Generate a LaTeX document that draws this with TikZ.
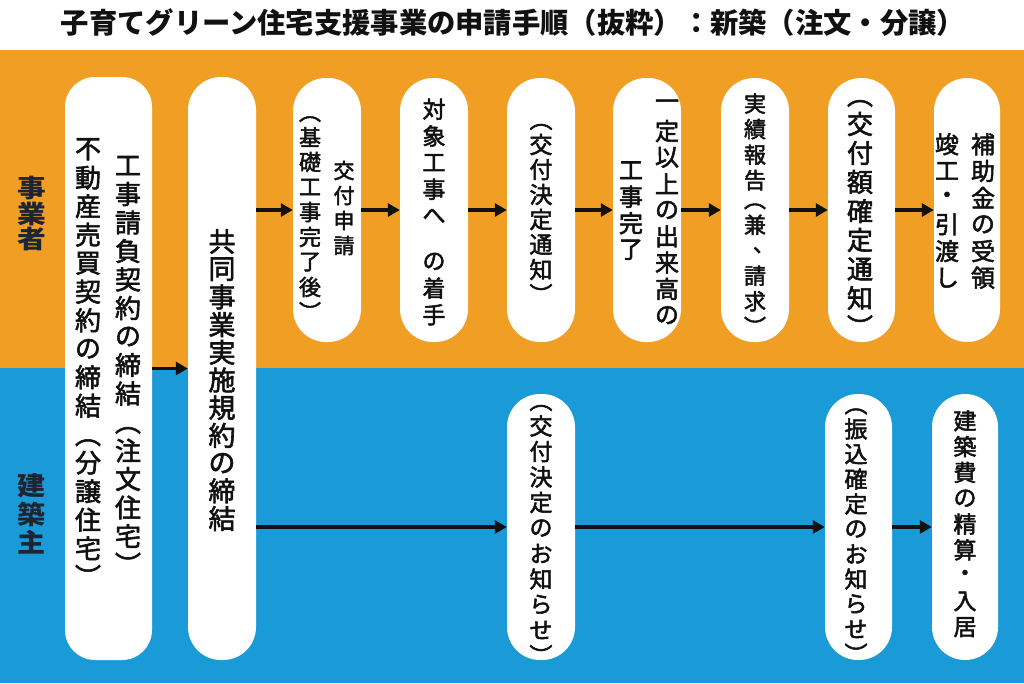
\documentclass[tikz,border=0pt]{standalone}
\usepackage{fontspec}
\usepackage{graphicx}
\usetikzlibrary{arrows.meta}
\newfontfamily\jp{Noto Sans CJK JP}
\newfontfamily\jpm[FakeBold=2.2]{Noto Sans CJK JP}
\definecolor{bandorange}{HTML}{F09F24}
\definecolor{bandblue}{HTML}{1A9BD7}
\definecolor{txt}{HTML}{111111}
\definecolor{lbl}{HTML}{1F2433}

\ExplSyntaxOn
\dim_new:N \l__vt_p_dim
\dim_new:N \l__vt_h_dim
\dim_new:N \l__vt_b_dim
\dim_new:N \l__vt_t_dim
\dim_new:N \l__vt_g_dim
\cs_new_protected:Npn \__vt_cell:n #1
  { \hbox to 1em { \hss \vbox to \l__vt_p_dim { \vss \hbox {#1} \vss } \hss } }
\cs_new_protected:Npn \__vt_open:
  { \hbox to 1em { \hss \vbox to \l__vt_h_dim { \vss \hbox { \smash { \rotatebox[origin=c]{-90}{（} } } \kern \l__vt_b_dim } \hss } }
\cs_new_protected:Npn \__vt_close:
  { \hbox to 1em { \hss \vbox to \l__vt_h_dim { \kern \l__vt_t_dim \hbox { \smash { \rotatebox[origin=c]{-90}{）} } } \vss } \hss } }
\cs_new_protected:Npn \__vt_comma:
  { \__vt_cell:n { \hbox to 1em { \kern 0.4em \raisebox{0.3em}[0.88em][0.12em]{ \rlap{、} } \hss } } }
\cs_new_protected:Npn \__vt_gap:
  { \hbox to 1em { \vbox to \l__vt_g_dim {} \hss } }
\NewDocumentCommand \vtext { O{1} m m m }
  {
    \group_begin:
    \fontsize{#2pt}{#2pt}\selectfont
    \dim_set:Nn \l__vt_p_dim {#3pt}
    \dim_set:Nn \l__vt_h_dim {#1\l__vt_p_dim}
    \dim_set:Nn \l__vt_g_dim {0.7\l__vt_p_dim}
    \dim_set:Nn \l__vt_b_dim {(\l__vt_p_dim - 1em)/2 + 0.12em}
    \dim_set:Nn \l__vt_t_dim {(\l__vt_p_dim - 1em)/2 + 0.88em}
    \vbox
      {
        \offinterlineskip
        \tl_map_inline:nn {#4}
          {
            \str_case:nnF {##1}
              {
                {（}{\__vt_open:}
                {）}{\__vt_close:}
                {、}{\__vt_comma:}
                {　}{\__vt_gap:}
              }
              { \__vt_cell:n {##1} }
          }
      }
    \group_end:
  }
\ExplSyntaxOff

\tikzset{
  pill/.style={fill=white, draw=none, rounded corners=33pt, inner sep=0pt},
  vt/.style={inner sep=0pt, text=txt, font=\jpm},
  lane/.style={inner sep=0pt, text=lbl, font=\jp\bfseries, transform shape},
  arr/.style={line width=3.5pt, draw=txt, -{Triangle[length=12pt,width=13pt]}},
}

\begin{document}
\begin{tikzpicture}[x=1pt,y=-1pt]
\useasboundingbox (0,0) rectangle (1024,683);
\fill[white] (0,0) rectangle (1024,50);
\fill[bandorange] (0,50) rectangle (1024,368);
\fill[bandblue] (0,368) rectangle (1024,683);

% title
\node[inner sep=0pt, text=txt] (title) at (513,23)
  {\jp\bfseries\fontsize{28.3}{28.3}\selectfont 子育てグリーン住宅支援事業の申請手順（抜粋）：新築（注文・分譲）};

% lane labels
\node[lane, xscale=1.15] (lab1) at (32,214) {\vtext{25}{25.5}{事業者}};
\node[lane, xscale=1.08] (lab2) at (32,514) {\vtext{26}{28}{建築主}};

% boxes
\node[pill, rounded corners=30pt, minimum width=87, minimum height=583] (b1) at (108.5,368.5) {};
\node[pill, minimum width=68, minimum height=583] (b2) at (222,368.5) {};
\node[pill, minimum width=68, minimum height=264] (b3) at (327,210) {};
\node[pill, minimum width=68, minimum height=264] (b4) at (434,210) {};
\node[pill, minimum width=68, minimum height=264] (b5) at (541,210) {};
\node[pill, minimum width=68, minimum height=264] (b6) at (647,210) {};
\node[pill, minimum width=68, minimum height=264] (b7) at (755,210) {};
\node[pill, minimum width=67, minimum height=264] (b8) at (861.5,210) {};
\node[pill, minimum width=66, minimum height=264] (b9) at (967,210) {};
\node[pill, minimum width=68, minimum height=266] (c5) at (541,527) {};
\node[pill, minimum width=67, minimum height=266] (c8) at (858.5,527) {};
\node[pill, minimum width=66, minimum height=266] (c9) at (965,527) {};

% texts
\node[vt] (t1a) at (128,365) {\vtext{26}{28.5}{工事請負契約の締結（注文住宅）}};
\node[vt] (t1b) at (88,363) {\vtext{26}{28.5}{不動産売買契約の締結（分譲住宅）}};
\node[vt] (t2) at (222,380) {\vtext{27}{27.7}{共同事業実施規約の締結}};
\node[vt] (t3a) at (344,208) {\vtext{21}{25}{交付申請}};
\node[vt] (t3b) at (310,212) {\vtext[0.6]{22}{25}{（基礎工事完了後）}};
\node[vt] (t4) at (434,212) {\vtext{23}{26.7}{対象工事へ　の着手}};
\node[vt] (t5) at (541,207) {\vtext[0.6]{23}{25}{（交付決定通知）}};
\node[vt] (t6a) at (667,210) {\vtext{24}{26.3}{一定以上の出来高の}};
\node[vt] (t6b) at (631,210) {\vtext{24}{26.5}{工事完了}};
\node[vt] (t7) at (755,212) {\vtext[0.75]{22}{25.5}{実績報告（兼、請求）}};
\node[vt] (t8) at (860,211) {\vtext[0.6]{26}{29}{（交付額確定通知）}};
\node[vt] (t9a) at (983,211) {\vtext{24}{26.7}{補助金の受領}};
\node[vt] (t9b) at (947,211) {\vtext{24}{26.7}{竣工・引渡し}};
\node[vt] (u5) at (541,528) {\vtext[0.55]{23}{25.5}{（交付決定のお知らせ）}};
\node[vt] (u8) at (856,529) {\vtext[0.55]{23}{25}{（振込確定のお知らせ）}};
\node[vt] (u9) at (965,524) {\vtext{23}{25.8}{建築費の精算・入居}};

% arrows
\draw[arr] (b1.east) -- (b2.west);
\draw[arr] (b2.east |- b3.west) -- (b3.west);
\draw[arr] (b3.east) -- (b4.west);
\draw[arr] (b4.east) -- (b5.west);
\draw[arr] (b5.east) -- (b6.west);
\draw[arr] (b6.east) -- (b7.west);
\draw[arr] (b7.east) -- (b8.west);
\draw[arr] (b8.east) -- (b9.west);
\draw[arr] (b2.east |- c5.west) -- (c5.west);
\draw[arr] (c5.east) -- (c8.west);
\draw[arr] (c8.east) -- (c9.west);
\end{tikzpicture}
\end{document}
